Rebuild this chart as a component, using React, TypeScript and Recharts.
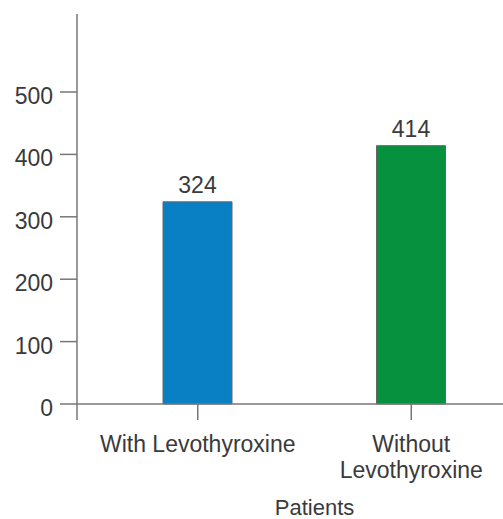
import { BarChart, Bar, XAxis, YAxis, Cell, LabelList, Label } from "recharts";

const categories = ["With Levothyroxine", "Without\nLevothyroxine"];
const patientCounts = [324, 414];
const barColors = ["#0a80c4", "#06913f"];
const yTicks = [0, 100, 200, 300, 400, 500];

const data = categories.map((name, i) => ({ name, value: patientCounts[i] }));

const textColor = "#3a3a3a";
const axisColor = "#777";
const font = "'Liberation Sans', Arial, sans-serif";

function XTick(props: any) {
  const { x, y, payload, index } = props;
  const lines = String(payload.value).split("\n");
  return (
    <g>
      {index === 0 && (
        <line x1={77} x2={77} y1={404} y2={420} stroke={axisColor} strokeWidth={1.5} />
      )}
      <text x={x} y={y} textAnchor="middle" fill={textColor} fontSize={23} fontFamily={font}>
        {lines.map((l, i) => (
          <tspan key={i} x={x} dy={i === 0 ? 30 : 26}>
            {l}
          </tspan>
        ))}
      </text>
    </g>
  );
}

function YTick(props: any) {
  const { x, y, payload } = props;
  return (
    <text x={x} y={y} dy={12} textAnchor="end" fill={textColor} fontSize={23} fontFamily={font}>
      {payload.value}
    </text>
  );
}

export default function App() {
  return (
    <div
      style={{
        position: "fixed",
        left: 0,
        top: 0,
        width: 503,
        height: 519,
        overflow: "hidden",
        background: "#fff",
      }}
    >
      <BarChart
        width={518}
        height={519}
        data={data}
        margin={{ top: 14, right: 0, bottom: 0, left: 0 }}
      >
        <XAxis
          dataKey="name"
          padding={{ left: 14, right: 0 }}
          height={115}
          interval={0}
          tickSize={16}
          tickLine={{ stroke: axisColor, strokeWidth: 1.5 }}
          axisLine={{ stroke: axisColor, strokeWidth: 1.5 }}
          tick={<XTick />}
        >
          <Label
            value="Patients"
            position="insideBottom"
            offset={4}
            dx={17}
            fill={textColor}
            fontSize={22}
            fontFamily={font}
          />
        </XAxis>
        <YAxis
          width={77}
          domain={[0, 625]}
          ticks={yTicks}
          interval={0}
          tickSize={17}
          tickMargin={7}
          tickLine={{ stroke: axisColor, strokeWidth: 1.5 }}
          axisLine={{ stroke: axisColor, strokeWidth: 1.5 }}
          tick={<YTick />}
        />
        <Bar dataKey="value" barSize={69} stroke="#666" strokeWidth={1} isAnimationActive={false}>
          {data.map((d, i) => (
            <Cell key={d.name} fill={barColors[i]} />
          ))}
          <LabelList
            dataKey="value"
            position="top"
            offset={9}
            fill={textColor}
            fontSize={23}
            fontFamily={font}
          />
        </Bar>
      </BarChart>
    </div>
  );
}
